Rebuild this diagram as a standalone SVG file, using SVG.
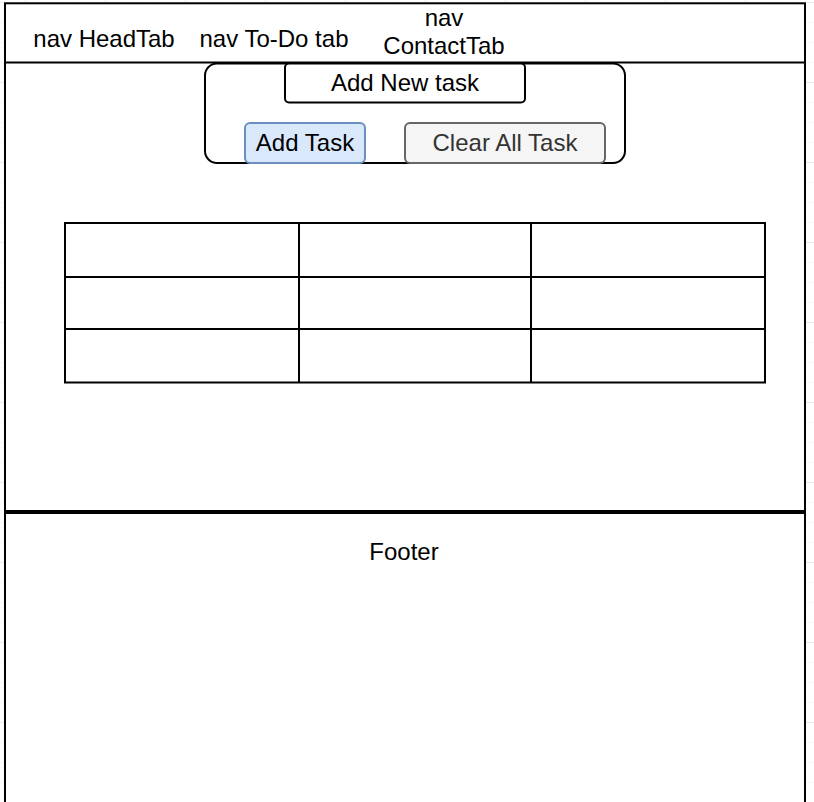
<svg xmlns="http://www.w3.org/2000/svg" width="814" height="802" viewBox="0 0 814 802">
  <defs>
    <pattern id="gridMinor" x="5" y="2" width="20" height="20" patternUnits="userSpaceOnUse">
      <path d="M20 0H0V20" fill="none" stroke="#f0f0f0" stroke-width="1"/>
    </pattern>
    <pattern id="gridMajor" x="25" y="2" width="80" height="80" patternUnits="userSpaceOnUse">
      <path d="M80 0H0V80" fill="none" stroke="#dedede" stroke-width="1"/>
    </pattern>
  </defs>
  <style>
    .t { font-family: "Liberation Sans", Arial, Helvetica, sans-serif; font-size: 24px; fill: #000; text-anchor: middle; }
    .frame { fill: #fff; stroke: #000; stroke-width: 2; }
    .ln { stroke: #000; stroke-width: 2; fill: none; }
    .box { fill: #fff; stroke: #000; stroke-width: 2; }
  </style>
  <rect width="814" height="802" fill="#fff"/>
  <rect width="814" height="802" fill="url(#gridMinor)"/>
  <rect width="814" height="802" fill="url(#gridMajor)"/>

  <g id="page">
    <rect class="frame" x="5" y="3.3" width="800" height="820"/>
  </g>

  <g id="header">
    <line class="ln" x1="5" y1="62.5" x2="805" y2="62.5"/>
    <g id="nav-headtab"><text class="t" x="104" y="47">nav HeadTab</text></g>
    <g id="nav-todo"><text class="t" x="274" y="47">nav To-Do tab</text></g>
    <g id="nav-contact">
      <text class="t" x="444" y="26">nav</text>
      <text class="t" x="444" y="54">ContactTab</text>
    </g>
  </g>

  <g id="task-panel">
    <rect class="box" x="205" y="63.5" width="420" height="99.5" rx="12"/>
  </g>
  <g id="add-new-task">
    <rect class="box" x="285" y="63.5" width="240" height="39" rx="4"/>
    <text class="t" x="405" y="91">Add New task</text>
  </g>
  <g id="add-task">
    <rect x="245" y="123" width="120" height="40" rx="5" fill="#dae8fc" stroke="#6c8ebf" stroke-width="2"/>
    <text class="t" x="305" y="151">Add Task</text>
  </g>
  <g id="clear-all-task">
    <rect x="405" y="123" width="200" height="40" rx="5" fill="#f5f5f5" stroke="#666666" stroke-width="2"/>
    <text class="t" x="505" y="151" style="fill:#333333">Clear All Task</text>
  </g>

  <g id="task-table">
    <rect class="box" x="65" y="223" width="700" height="159.5"/>
    <line class="ln" x1="65" y1="277" x2="765" y2="277"/>
    <line class="ln" x1="65" y1="329" x2="765" y2="329"/>
    <line class="ln" x1="299" y1="223" x2="299" y2="382.5"/>
    <line class="ln" x1="531" y1="223" x2="531" y2="382.5"/>
  </g>

  <g id="footer">
    <line x1="5" y1="512" x2="805" y2="512" stroke="#000" stroke-width="4"/>
    <text class="t" x="404" y="560">Footer</text>
  </g>

  <g id="connectors"/>
</svg>
